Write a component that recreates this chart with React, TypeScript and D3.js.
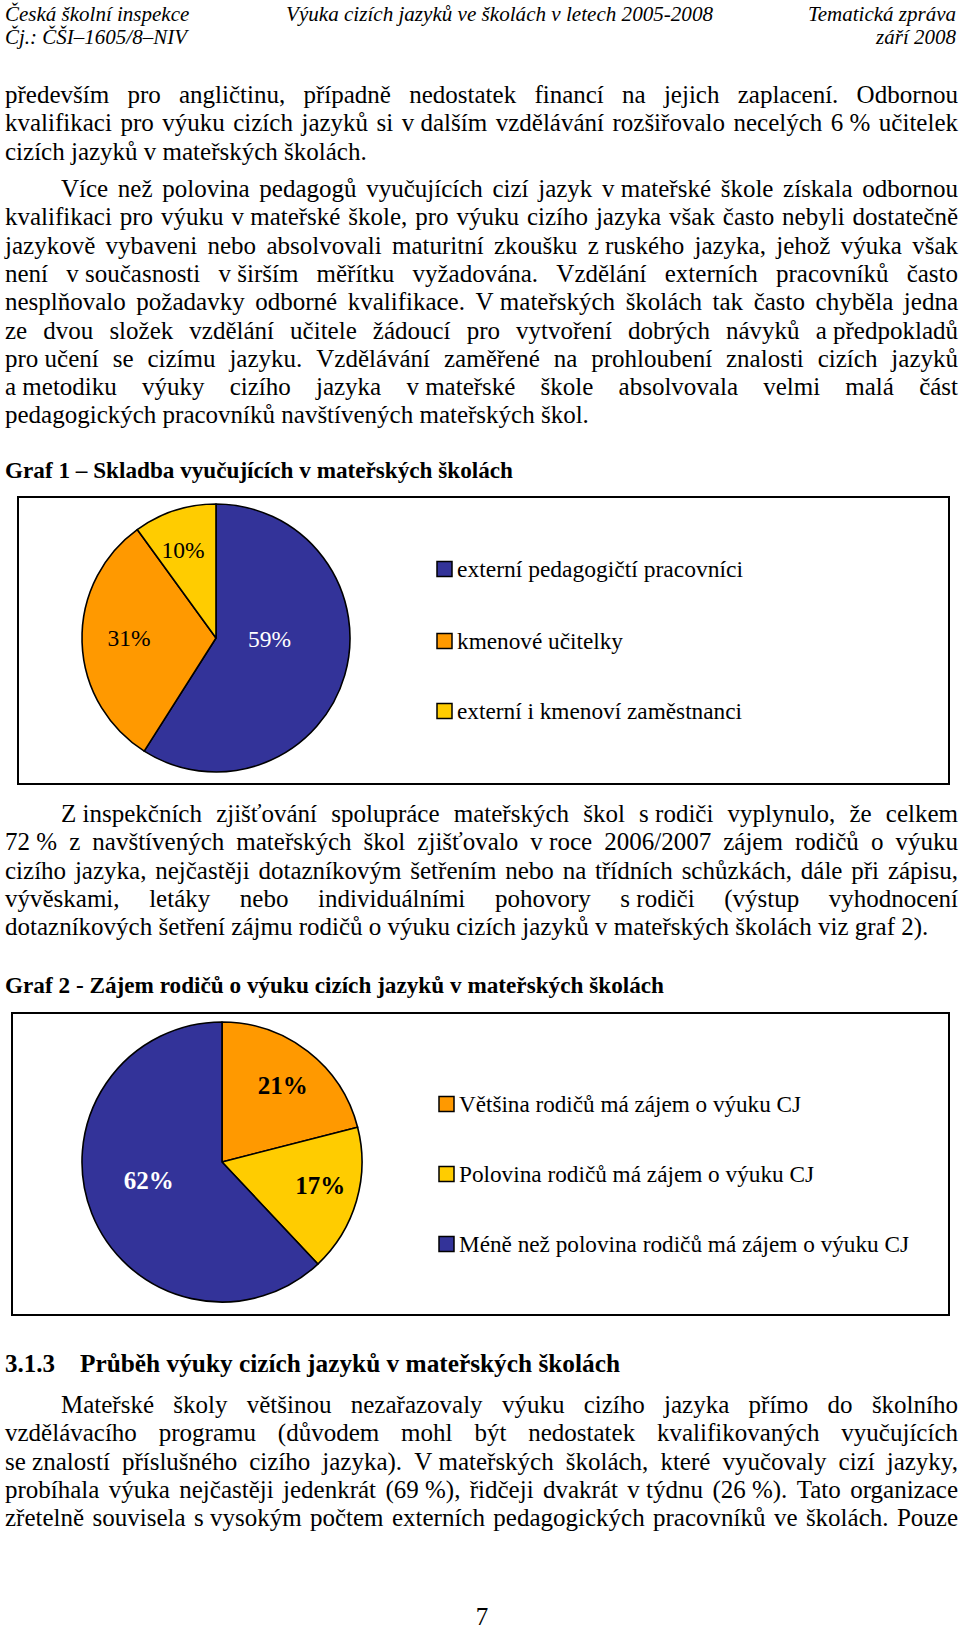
import React from 'react';
import * as d3 from 'd3';

const FONT = "'Liberation Serif', 'Times New Roman', Times, serif";
const PAGE_W = 960;
const PAGE_H = 1631;

// ---------- text content ----------
const headerLeft = ['Česká školní inspekce', 'Čj.: ČŠI–1605/8–NIV'];
const headerCenter = 'Výuka cizích jazyků ve školách v letech 2005-2008';
const headerRight = ['Tematická zpráva', 'září 2008'];

// "~" marks a non-breaking (non-stretching) space
const paragraph1 = [
  'především pro angličtinu, případně nedostatek financí na jejich zaplacení. Odbornou',
  'kvalifikaci pro výuku cizích jazyků si v~dalším vzdělávání rozšiřovalo necelých 6~% učitelek',
  'cizích jazyků v~mateřských školách.',
];
const paragraph2 = [
  'Více než polovina pedagogů vyučujících cizí jazyk v~mateřské škole získala odbornou',
  'kvalifikaci pro výuku v~mateřské škole, pro výuku cizího jazyka však často nebyli dostatečně',
  'jazykově vybaveni nebo absolvovali maturitní zkoušku z~ruského jazyka, jehož výuka však',
  'není v~současnosti v~širším měřítku vyžadována. Vzdělání externích pracovníků často',
  'nesplňovalo požadavky odborné kvalifikace. V~mateřských školách tak často chyběla jedna',
  'ze dvou složek vzdělání učitele žádoucí pro vytvoření dobrých návyků a~předpokladů',
  'pro~učení se cizímu jazyku. Vzdělávání zaměřené na prohloubení znalosti cizích jazyků',
  'a~metodiku výuky cizího jazyka v~mateřské škole absolvovala velmi malá část',
  'pedagogických pracovníků navštívených mateřských škol.',
];
const paragraph3 = [
  'Z~inspekčních zjišťování spolupráce mateřských škol s~rodiči vyplynulo, že celkem',
  '72~% z navštívených mateřských škol zjišťovalo v~roce 2006/2007 zájem rodičů o výuku',
  'cizího jazyka, nejčastěji dotazníkovým šetřením nebo na třídních schůzkách, dále při zápisu,',
  'vývěskami, letáky nebo individuálními pohovory s~rodiči (výstup vyhodnocení',
  'dotazníkových šetření zájmu rodičů o výuku cizích jazyků v~mateřských školách viz graf 2).',
];
const paragraph4 = [
  'Mateřské školy většinou nezařazovaly výuku cizího jazyka přímo do školního',
  'vzdělávacího programu (důvodem mohl být nedostatek kvalifikovaných vyučujících',
  'se~znalostí příslušného cizího jazyka). V~mateřských školách, které vyučovaly cizí jazyky,',
  'probíhala výuka nejčastěji jedenkrát (69~%), řidčeji dvakrát v~týdnu (26~%). Tato organizace',
  'zřetelně souvisela s~vysokým počtem externích pedagogických pracovníků ve školách. Pouze',
];

// ---------- chart 1 data ----------
const chart1Title = 'Graf 1 – Skladba vyučujících v mateřských školách';
const chart1Categories = [
  'externí pedagogičtí pracovníci',
  'kmenové učitelky',
  'externí i kmenoví zaměstnanci',
];
const chart1Values = [59, 31, 10];
const chart1Colors = ['#333399', '#FF9900', '#FFCC00'];
const chart1LabelColors = ['#ffffff', '#000000', '#000000'];

// ---------- chart 2 data ----------
const chart2Title = 'Graf 2 - Zájem rodičů o výuku cizích jazyků v mateřských školách';
const chart2Categories = [
  'Většina rodičů má zájem o výuku CJ',
  'Polovina rodičů má zájem o výuku CJ',
  'Méně než polovina rodičů má zájem o výuku CJ',
];
const chart2Values = [21, 17, 62];
const chart2Colors = ['#FF9900', '#FFCC00', '#333399'];
const chart2LabelColors = ['#000000', '#000000', '#ffffff'];

const sectionNumber = '3.1.3';
const sectionTitle = 'Průběh výuky cizích jazyků v mateřských školách';
const pageNumber = '7';

// ---------- layout ----------
const MARGIN_L = 5;
const MARGIN_R = 958;
const INDENT = 61;
const BODY_SIZE = 25;
const LINE_H = 28.3;

let measureCtx: CanvasRenderingContext2D | null = null;
function measure(text: string, font: string): number {
  if (!measureCtx) {
    const c = document.createElement('canvas');
    measureCtx = c.getContext('2d');
  }
  if (!measureCtx) return text.length * 10;
  measureCtx.font = font;
  return measureCtx.measureText(text).width;
}

const nb = (s: string) => s.replace(/~/g, '\u00A0');

function BodyLine({ text, x, y, justify }: { text: string; x: number; y: number; justify: boolean }) {
  const font = `normal normal ${BODY_SIZE}px ${FONT}`;
  const tokens = text.split(' ').filter(Boolean).map(nb);
  if (justify && tokens.length > 1) {
    const widths = tokens.map((t) => measure(t, font));
    const total = widths.reduce((a, b) => a + b, 0);
    const gap = (MARGIN_R - x - total) / (tokens.length - 1);
    let cx = x;
    const spans = tokens.map((t, i) => {
      const el = (
        <tspan key={i} x={cx}>
          {t}
        </tspan>
      );
      cx += widths[i] + gap;
      return el;
    });
    return (
      <text y={y} fontFamily={FONT} fontSize={BODY_SIZE} fill="#000">
        {spans}
      </text>
    );
  }
  return (
    <text x={x} y={y} fontFamily={FONT} fontSize={BODY_SIZE} fill="#000">
      {tokens.join(' ')}
    </text>
  );
}

function Paragraph({
  lines,
  top,
  indentFirst,
  justifyLast,
}: {
  lines: string[];
  top: number;
  indentFirst: boolean;
  justifyLast: boolean;
}) {
  return (
    <g>
      {lines.map((l, i) => (
        <BodyLine
          key={i}
          text={l}
          x={i === 0 && indentFirst ? INDENT : MARGIN_L}
          y={top + i * LINE_H}
          justify={i < lines.length - 1 || justifyLast}
        />
      ))}
    </g>
  );
}

type LabelPlace = { frac: number; nudge: number };

function PieChart({
  cx,
  cy,
  r,
  values,
  colors,
  labelColors,
  labelSize,
  labelWeight,
  labelPlaces,
}: {
  cx: number;
  cy: number;
  r: number;
  values: number[];
  colors: string[];
  labelColors: string[];
  labelSize: number;
  labelWeight: string;
  labelPlaces: LabelPlace[];
}) {
  const arcs = d3.pie<number>().sort(null).value((d) => d)(values);
  const arcGen = d3.arc<d3.PieArcDatum<number>>().innerRadius(0).outerRadius(r);
  const total = d3.sum(values);
  return (
    <g transform={`translate(${cx},${cy})`}>
      {arcs.map((a, i) => (
        <path key={i} d={arcGen(a) || ''} fill={colors[i]} stroke="#000" strokeWidth={1.6} strokeLinejoin="round" />
      ))}
      {arcs.map((a, i) => {
        const mid = (a.startAngle + a.endAngle) / 2 + (labelPlaces[i].nudge * Math.PI) / 180;
        const rr = labelPlaces[i].frac * r;
        const x = Math.sin(mid) * rr;
        const y = -Math.cos(mid) * rr;
        return (
          <text
            key={'l' + i}
            x={x}
            y={y + labelSize * 0.34}
            textAnchor="middle"
            fontFamily={FONT}
            fontSize={labelSize}
            fontWeight={labelWeight}
            fill={labelColors[i]}
          >
            {`${Math.round((values[i] / total) * 100)}%`}
          </text>
        );
      })}
    </g>
  );
}

function Legend({
  x,
  ys,
  items,
  colors,
  widths,
  size,
}: {
  x: number;
  ys: number[];
  items: string[];
  colors: string[];
  widths: number[];
  size: number;
}) {
  const sq = 15;
  return (
    <g>
      {items.map((it, i) => (
        <g key={i}>
          <rect x={x} y={ys[i] - sq / 2} width={sq} height={sq} fill={colors[i]} stroke="#000" strokeWidth={1.5} />
          <text
            x={x + sq + 5}
            y={ys[i] + size * 0.33}
            fontFamily={FONT}
            fontSize={size}
            textLength={widths[i]}
            lengthAdjust="spacingAndGlyphs"
            fill="#000"
          >
            {it}
          </text>
        </g>
      ))}
    </g>
  );
}

export default function App() {
  return (
    <svg
      width={PAGE_W}
      height={PAGE_H}
      viewBox={`0 0 ${PAGE_W} ${PAGE_H}`}
      style={{ position: 'absolute', left: 0, top: 0, background: '#fff' }}
    >
      <rect x={0} y={0} width={PAGE_W} height={PAGE_H} fill="#fff" />

      {/* header */}
      <g fontFamily={FONT} fontStyle="italic" fontSize={21} fill="#000">
        <text x={MARGIN_L} y={21}>{headerLeft[0]}</text>
        <text x={MARGIN_L} y={44}>{headerLeft[1]}</text>
        <text x={286} y={21} textLength={427} lengthAdjust="spacingAndGlyphs">{headerCenter}</text>
        <text x={956} y={21} textAnchor="end">{headerRight[0]}</text>
        <text x={956} y={44} textAnchor="end">{headerRight[1]}</text>
      </g>

      <Paragraph lines={paragraph1} top={103} indentFirst={false} justifyLast={false} />
      <Paragraph lines={paragraph2} top={197} indentFirst={true} justifyLast={false} />

      {/* chart 1 */}
      <text x={MARGIN_L} y={478} fontFamily={FONT} fontWeight="bold" fontSize={23} textLength={508} lengthAdjust="spacingAndGlyphs">
        {chart1Title}
      </text>
      <rect x={18} y={497} width={931} height={287} fill="#fff" stroke="#000" strokeWidth={2} />
      <PieChart
        cx={216}
        cy={638}
        r={134}
        values={chart1Values}
        colors={chart1Colors}
        labelColors={chart1LabelColors}
        labelSize={23.5}
        labelWeight="normal"
        labelPlaces={[
          { frac: 0.4, nudge: -15 },
          { frac: 0.65, nudge: 2 },
          { frac: 0.7, nudge: -2.6 },
        ]}
      />
      <Legend x={437} ys={[569, 641, 711]} items={chart1Categories} colors={chart1Colors} widths={[286, 166, 285]} size={23.5} />

      <Paragraph lines={paragraph3} top={822} indentFirst={true} justifyLast={false} />

      {/* chart 2 */}
      <text x={MARGIN_L} y={993} fontFamily={FONT} fontWeight="bold" fontSize={23} textLength={659} lengthAdjust="spacingAndGlyphs">
        {chart2Title}
      </text>
      <rect x={12} y={1013} width={937} height={302} fill="#fff" stroke="#000" strokeWidth={2} />
      <PieChart
        cx={222}
        cy={1162}
        r={140}
        values={chart2Values}
        colors={chart2Colors}
        labelColors={chart2LabelColors}
        labelSize={25}
        labelWeight="bold"
        labelPlaces={[
          { frac: 0.7, nudge: 0.6 },
          { frac: 0.72, nudge: -3 },
          { frac: 0.54, nudge: 7.6 },
        ]}
      />
      <Legend x={439} ys={[1104, 1174, 1244]} items={chart2Categories} colors={chart2Colors} widths={[342, 355, 450]} size={23.5} />

      {/* section heading */}
      <g fontFamily={FONT} fontWeight="bold" fontSize={25} fill="#000">
        <text x={MARGIN_L} y={1372}>{sectionNumber}</text>
        <text x={80} y={1372} textLength={540} lengthAdjust="spacingAndGlyphs">{sectionTitle}</text>
      </g>

      <Paragraph lines={paragraph4} top={1413} indentFirst={true} justifyLast={true} />

      <text x={482} y={1625} textAnchor="middle" fontFamily={FONT} fontSize={25}>
        {pageNumber}
      </text>
    </svg>
  );
}
